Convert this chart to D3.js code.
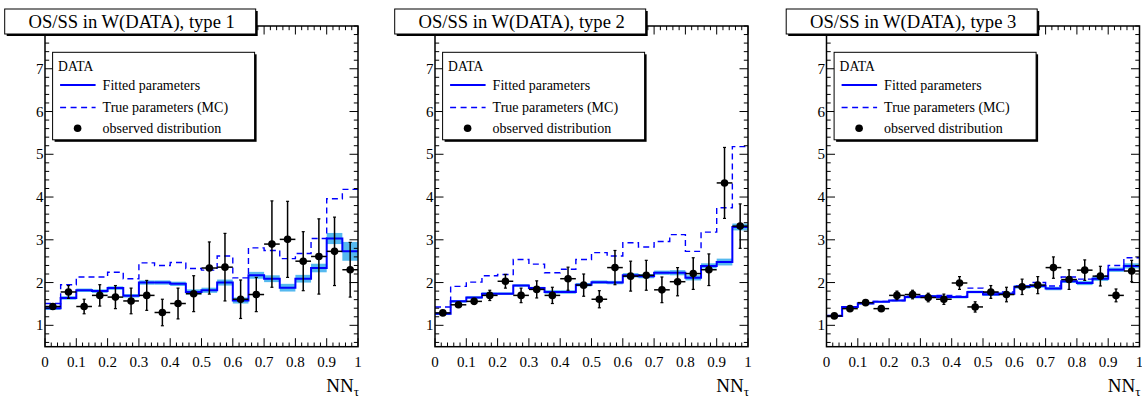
<!DOCTYPE html>
<html>
<head>
<meta charset="utf-8">
<script src="https://cdn.jsdelivr.net/npm/d3@7"></script>
<style>
  html, body { margin: 0; padding: 0; background: #fff; }
  svg { display: block; }
</style>
</head>
<body>
<svg id="chart" width="1142" height="399" font-family="'Liberation Serif', 'Times New Roman', Times, 'DejaVu Serif', serif"></svg>
<script>
// ---------- data ----------
const binEdges = [0, 0.05, 0.1, 0.15, 0.2, 0.25, 0.3, 0.35, 0.4, 0.45, 0.5,
                  0.55, 0.6, 0.65, 0.7, 0.75, 0.8, 0.85, 0.9, 0.95, 1];
const xTickValues = [0, 0.1, 0.2, 0.3, 0.4, 0.5, 0.6, 0.7, 0.8, 0.9, 1];
const xTickLabels = ["0", "0.1", "0.2", "0.3", "0.4", "0.5", "0.6", "0.7", "0.8", "0.9", "1"];
const yTickValues = [1, 2, 3, 4, 5, 6, 7];
const yTickLabels = ["1", "2", "3", "4", "5", "6", "7"];
const panelTitles = ["OS/SS in W(DATA), type 1", "OS/SS in W(DATA), type 2", "OS/SS in W(DATA), type 3"];
const legendHeader = "DATA";
const legendLabels = ["Fitted parameters", "True parameters (MC)", "observed distribution"];

// type 1
const type1Obs    = [1.44, 1.78, 1.44, 1.70, 1.66, 1.57, 1.70, 1.30, 1.51, 1.74, 2.34, 2.36, 1.61, 1.72, 2.90, 3.01, 2.50, 2.61, 2.73, 2.30];
const type1ObsErr = [0.05, 0.15, 0.17, 0.25, 0.27, 0.30, 0.35, 0.31, 0.36, 0.42, 0.61, 0.79, 0.45, 0.40, 1.01, 0.89, 0.69, 0.88, 0.80, 0.64];
const type1Fit    = [1.40, 1.64, 1.82, 1.80, 1.87, 1.69, 2.00, 2.00, 1.97, 1.78, 1.82, 2.00, 1.58, 2.17, 2.09, 1.88, 2.09, 2.34, 3.03, 2.73];
const type1FitErr = [0.04, 0.04, 0.04, 0.04, 0.04, 0.04, 0.05, 0.05, 0.05, 0.06, 0.06, 0.07, 0.07, 0.08, 0.08, 0.09, 0.09, 0.10, 0.13, 0.22];
const type1True   = [1.51, 1.95, 2.13, 2.13, 2.24, 2.09, 2.46, 2.40, 2.47, 2.33, 2.29, 2.62, 2.11, 2.81, 2.75, 2.56, 2.68, 3.03, 3.96, 4.18];

// type 2
const type2Obs    = [1.29, 1.48, 1.56, 1.70, 2.03, 1.70, 1.84, 1.70, 2.09, 1.94, 1.61, 2.35, 2.15, 2.17, 1.83, 2.02, 2.21, 2.30, 4.33, 3.32];
const type2ObsErr = [0.04, 0.05, 0.07, 0.12, 0.16, 0.17, 0.20, 0.19, 0.27, 0.26, 0.20, 0.40, 0.35, 0.35, 0.30, 0.33, 0.37, 0.37, 0.83, 0.52];
const type2Fit    = [1.27, 1.56, 1.65, 1.74, 1.74, 1.93, 1.87, 1.78, 1.78, 1.95, 2.01, 2.00, 2.17, 2.15, 2.23, 2.23, 2.11, 2.39, 2.48, 3.30];
const type2FitErr = [0.03, 0.03, 0.03, 0.03, 0.03, 0.03, 0.03, 0.04, 0.04, 0.04, 0.04, 0.04, 0.05, 0.05, 0.05, 0.06, 0.06, 0.06, 0.08, 0.08];
const type2True   = [1.43, 1.91, 2.01, 2.16, 2.19, 2.54, 2.43, 2.23, 2.31, 2.54, 2.70, 2.62, 2.93, 2.83, 2.96, 3.12, 2.73, 3.18, 3.75, 5.18];

// type 3
const type3Obs    = [1.22, 1.39, 1.53, 1.39, 1.70, 1.72, 1.65, 1.61, 1.99, 1.43, 1.78, 1.72, 1.90, 1.94, 2.35, 2.07, 2.29, 2.15, 1.70, 2.27];
const type3ObsErr = [0.03, 0.04, 0.04, 0.05, 0.10, 0.10, 0.10, 0.12, 0.15, 0.12, 0.15, 0.17, 0.18, 0.20, 0.25, 0.23, 0.24, 0.23, 0.15, 0.25];
const type3Fit    = [1.22, 1.43, 1.51, 1.55, 1.58, 1.66, 1.68, 1.66, 1.66, 1.78, 1.72, 1.74, 1.90, 1.92, 1.86, 2.03, 1.99, 2.09, 2.30, 2.39];
const type3FitErr = [0.02, 0.02, 0.02, 0.02, 0.02, 0.03, 0.03, 0.03, 0.03, 0.03, 0.03, 0.03, 0.04, 0.04, 0.04, 0.04, 0.05, 0.05, 0.05, 0.06];
const type3True   = [1.23, 1.43, 1.52, 1.56, 1.58, 1.68, 1.68, 1.70, 1.68, 1.87, 1.76, 1.78, 1.92, 2.00, 1.92, 2.13, 2.08, 2.15, 2.40, 2.58];

const panels = [
  { title: panelTitles[0], obs: type1Obs, obsErr: type1ObsErr, fit: type1Fit, fitErr: type1FitErr, tru: type1True, left: 45 },
  { title: panelTitles[1], obs: type2Obs, obsErr: type2ObsErr, fit: type2Fit, fitErr: type2FitErr, tru: type2True, left: 435 },
  { title: panelTitles[2], obs: type3Obs, obsErr: type3ObsErr, fit: type3Fit, fitErr: type3FitErr, tru: type3True, left: 826.5 }
];

// ---------- drawing ----------
const FONT = "'Liberation Serif', 'Times New Roman', Times, 'DejaVu Serif', serif";
const svg = d3.select("#chart");
const W = 313, TOP = 26, BOTTOM = 346.7;
const BLUE = "#0000ff", BAND = "#55b9ef";

panels.forEach(p => {
  const g = svg.append("g").attr("font-family", FONT);
  const x = d3.scaleLinear().domain([0, 1]).range([p.left, p.left + W]);
  const y = d3.scaleLinear().domain([0.5, 8]).range([BOTTOM, TOP]);
  const nb = binEdges.length - 1;
  const bins = d3.range(nb).map(i => ({ x0: binEdges[i], x1: binEdges[i + 1] }));

  // fit uncertainty band
  g.selectAll("rect.band").data(bins).join("rect")
    .attr("x", (d) => x(d.x0))
    .attr("width", d => x(d.x1) - x(d.x0))
    .attr("y", (d, i) => y(p.fit[i] + p.fitErr[i]))
    .attr("height", (d, i) => y(p.fit[i] - p.fitErr[i]) - y(p.fit[i] + p.fitErr[i]))
    .attr("fill", BAND);

  const stepPts = vals => binEdges.map((e, i) => [e, vals[Math.min(i, nb - 1)]]);
  const line = d3.line().x(d => x(d[0])).y(d => y(d[1])).curve(d3.curveStepAfter);

  // true (dashed)
  g.append("path").attr("d", line(stepPts(p.tru)))
    .attr("fill", "none").attr("stroke", BLUE).attr("stroke-width", 1.4)
    .attr("stroke-dasharray", "6,4");
  // fitted (solid)
  g.append("path").attr("d", line(stepPts(p.fit)))
    .attr("fill", "none").attr("stroke", BLUE).attr("stroke-width", 2);

  // observed points
  const pts = g.selectAll("g.pt").data(bins).join("g");
  pts.append("line")
    .attr("x1", d => x(d.x0)).attr("x2", d => x(d.x1))
    .attr("y1", (d, i) => y(p.obs[i])).attr("y2", (d, i) => y(p.obs[i]))
    .attr("stroke", "#000").attr("stroke-width", 1.5);
  pts.append("line")
    .attr("x1", d => x((d.x0 + d.x1) / 2)).attr("x2", d => x((d.x0 + d.x1) / 2))
    .attr("y1", (d, i) => y(p.obs[i] + p.obsErr[i])).attr("y2", (d, i) => y(p.obs[i] - p.obsErr[i]))
    .attr("stroke", "#000").attr("stroke-width", 1.5);
  [1, -1].forEach(s => {
    pts.append("line")
      .attr("x1", d => x((d.x0 + d.x1) / 2) - 1.5).attr("x2", d => x((d.x0 + d.x1) / 2) + 1.5)
      .attr("y1", (d, i) => y(p.obs[i] + s * p.obsErr[i])).attr("y2", (d, i) => y(p.obs[i] + s * p.obsErr[i]))
      .attr("stroke", "#000").attr("stroke-width", 1.2);
  });
  pts.append("circle")
    .attr("cx", d => x((d.x0 + d.x1) / 2)).attr("cy", (d, i) => y(p.obs[i]))
    .attr("r", 3.8).attr("fill", "#000");

  // axes (ticks inward on all sides)
  const xMinor = d3.range(0, 1.0001, 0.02);
  const yMinor = d3.range(0.6, 8.0001, 0.2);
  const axG = g.append("g").attr("stroke", "#000").attr("stroke-width", 1);
  const tick = (x1, y1, x2, y2) => axG.append("line").attr("x1", x1).attr("y1", y1).attr("x2", x2).attr("y2", y2);
  xMinor.forEach(v => {
    const isMaj = xTickValues.some(t => Math.abs(t - v) < 1e-6);
    const L = isMaj ? 8.5 : 4.2;
    tick(x(v), BOTTOM, x(v), BOTTOM - L);
    tick(x(v), TOP, x(v), TOP + L);
  });
  yMinor.forEach(v => {
    const isMaj = yTickValues.some(t => Math.abs(t - v) < 1e-6);
    const L = isMaj ? 8.5 : 4.2;
    tick(x(0), y(v), x(0) + L, y(v));
    tick(x(1), y(v), x(1) - L, y(v));
  });
  g.append("rect").attr("x", x(0)).attr("y", TOP).attr("width", W).attr("height", BOTTOM - TOP)
    .attr("fill", "none").attr("stroke", "#000").attr("stroke-width", 1.5);

  // tick labels
  g.selectAll("text.xl").data(xTickValues).join("text")
    .attr("x", d => x(d)).attr("y", 366.5).attr("text-anchor", "middle")
    .attr("font-size", 15).attr("fill", "#000").text((d, i) => xTickLabels[i]);
  g.selectAll("text.yl").data(yTickValues).join("text")
    .attr("x", x(0) - 1.5).attr("y", d => y(d) + 5).attr("text-anchor", "end")
    .attr("font-size", 15).attr("fill", "#000").text((d, i) => yTickLabels[i]);

  // axis title NN_tau
  const xt = g.append("text").attr("x", x(1) + 1).attr("y", 392).attr("text-anchor", "end").attr("font-size", 19);
  xt.append("tspan").text("NN");
  xt.append("tspan").attr("font-size", 13).attr("dy", 4).text("τ");

  // title box
  const tbx = p.left - 40.3, tby = 9, tbw = 251, tbh = 25;
  g.append("rect").attr("x", tbx + 2).attr("y", tby + 2).attr("width", tbw).attr("height", tbh).attr("fill", "#000");
  g.append("rect").attr("x", tbx).attr("y", tby).attr("width", tbw).attr("height", tbh)
    .attr("fill", "#fff").attr("stroke", "#000").attr("stroke-width", 1);
  g.append("text").attr("x", tbx + tbw / 2 + 1.5).attr("y", tby + 18.5).attr("text-anchor", "middle")
    .attr("font-size", 18.6).text(p.title);

  // legend
  const lx = p.left + 7.6, ly = 52.3, lw = 202, lh = 87.5;
  g.append("rect").attr("x", lx + 2).attr("y", ly + 2).attr("width", lw).attr("height", lh).attr("fill", "#000");
  g.append("rect").attr("x", lx).attr("y", ly).attr("width", lw).attr("height", lh)
    .attr("fill", "#fff").attr("stroke", "#000").attr("stroke-width", 1);
  g.append("text").attr("x", lx + 5.5).attr("y", ly + 18.5).attr("font-size", 13.6).text(legendHeader);
  const rowY = [85, 107.5, 128.3];
  g.append("line").attr("x1", lx + 7.5).attr("x2", lx + 43).attr("y1", rowY[0]).attr("y2", rowY[0])
    .attr("stroke", BLUE).attr("stroke-width", 2);
  g.append("line").attr("x1", lx + 7.5).attr("x2", lx + 43).attr("y1", rowY[1]).attr("y2", rowY[1])
    .attr("stroke", BLUE).attr("stroke-width", 1.6).attr("stroke-dasharray", "6,4.5");
  g.append("circle").attr("cx", lx + 25).attr("cy", rowY[2]).attr("r", 3.8).attr("fill", "#000");
  legendLabels.forEach((t, i) => {
    g.append("text").attr("x", lx + 50).attr("y", rowY[i] + 4.8).attr("font-size", 14).text(t);
  });
});
</script>
</body>
</html>
